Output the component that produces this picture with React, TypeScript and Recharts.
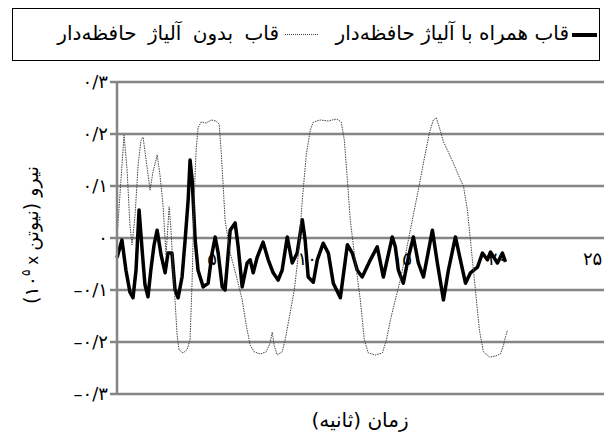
import React from 'react';
import { LineChart, Line, XAxis, YAxis, CartesianGrid, ReferenceDot } from 'recharts';

// Time (s) and force (x 10^5 N) — frame with shape-memory alloy (thick line)
const withAlloyTime = [0.00, 0.26, 0.47, 0.68, 0.84, 1.00, 1.16, 1.32, 1.47, 1.63, 1.79, 1.95, 2.11, 2.32, 2.53, 2.68, 2.89, 3.05, 3.21, 3.42, 3.58, 3.74, 3.84, 3.95, 4.11, 4.26, 4.53, 4.79, 5.00, 5.16, 5.32, 5.53, 5.68, 5.95, 6.21, 6.37, 6.58, 6.84, 7.00, 7.16, 7.37, 7.68, 7.95, 8.21, 8.47, 8.68, 8.95, 9.21, 9.47, 9.74, 9.89, 10.05, 10.32, 10.53, 10.84, 11.11, 11.37, 11.74, 12.11, 12.37, 12.63, 12.89, 13.32, 13.68, 14.00, 14.47, 14.63, 14.79, 15.05, 15.32, 15.58, 15.84, 16.11, 16.58, 16.84, 17.16, 17.42, 17.79, 18.05, 18.32, 18.58, 18.95, 19.21, 19.47, 19.63, 20.00, 20.26, 20.42];
const withAlloyForce = [-0.038, -0.004, -0.062, -0.104, -0.115, -0.062, 0.054, -0.023, -0.090, -0.113, -0.058, -0.013, 0.015, -0.033, -0.067, -0.029, -0.029, -0.100, -0.115, -0.075, -0.004, 0.073, 0.150, 0.112, -0.004, -0.062, -0.094, -0.087, -0.029, 0.002, -0.029, -0.094, -0.100, 0.015, 0.029, -0.017, -0.094, -0.048, -0.042, -0.067, -0.037, -0.008, -0.042, -0.067, -0.081, -0.062, 0.002, -0.048, -0.029, 0.035, -0.004, -0.075, -0.085, -0.042, -0.010, -0.029, -0.087, -0.115, -0.013, -0.029, -0.062, -0.075, -0.042, -0.017, -0.075, 0.002, -0.017, -0.062, -0.087, -0.037, 0.002, -0.048, -0.075, 0.015, -0.048, -0.119, -0.062, 0.002, -0.042, -0.087, -0.067, -0.056, -0.029, -0.042, -0.027, -0.048, -0.029, -0.046];

// Frame without shape-memory alloy (thin dotted line)
const withoutAlloyTime = [0.00, 0.21, 0.37, 0.53, 0.68, 0.79, 0.95, 1.11, 1.26, 1.37, 1.53, 1.74, 1.89, 2.05, 2.11, 2.26, 2.42, 2.53, 2.58, 2.68, 2.74, 2.84, 2.95, 3.05, 3.16, 3.26, 3.47, 3.68, 3.84, 3.95, 4.05, 4.16, 4.26, 4.42, 4.68, 4.95, 5.21, 5.37, 5.47, 5.58, 5.68, 5.95, 6.26, 6.58, 6.79, 7.00, 7.21, 7.53, 7.84, 8.05, 8.16, 8.26, 8.42, 8.68, 8.84, 9.05, 9.32, 9.53, 9.74, 9.95, 10.16, 10.32, 10.68, 11.11, 11.53, 11.79, 11.95, 12.11, 12.26, 12.53, 12.79, 13.00, 13.21, 13.58, 13.95, 14.16, 14.37, 14.63, 14.89, 15.16, 15.42, 15.63, 15.89, 16.16, 16.42, 16.63, 16.79, 16.95, 17.16, 17.42, 17.68, 17.95, 18.21, 18.42, 18.63, 18.84, 19.05, 19.26, 19.58, 19.89, 20.16, 20.32, 20.42, 20.53];
const withoutAlloyForce = [0.000, 0.112, 0.198, 0.131, 0.025, -0.013, 0.044, 0.140, 0.188, 0.194, 0.150, 0.092, 0.127, 0.150, 0.160, 0.121, 0.063, -0.004, -0.033, 0.025, 0.060, 0.015, -0.062, -0.119, -0.187, -0.215, -0.221, -0.215, -0.196, -0.081, 0.073, 0.169, 0.212, 0.223, 0.221, 0.227, 0.225, 0.219, 0.169, 0.102, 0.035, -0.029, -0.071, -0.119, -0.167, -0.206, -0.219, -0.223, -0.219, -0.202, -0.181, -0.206, -0.225, -0.219, -0.196, -0.154, -0.100, -0.033, 0.073, 0.160, 0.208, 0.223, 0.227, 0.225, 0.229, 0.223, 0.188, 0.112, 0.035, -0.046, -0.119, -0.196, -0.221, -0.225, -0.221, -0.196, -0.158, -0.119, -0.081, -0.033, 0.015, 0.054, 0.102, 0.154, 0.202, 0.227, 0.231, 0.212, 0.185, 0.165, 0.144, 0.121, 0.100, 0.054, -0.023, -0.100, -0.177, -0.219, -0.229, -0.227, -0.223, -0.206, -0.190, -0.177];

const yTicks = [-0.3, -0.2, -0.1, 0, 0.1, 0.2, 0.3];
const yTickLabels = ['–۰/۳', '–۰/۲', '–۰/۱', '۰', '۰/۱', '۰/۲', '۰/۳'];
const xTicks = [5, 10, 15, 20, 25];
const xTickLabels = ['۵', '۱۰', '۱۵', '۲۰', '۲۵'];
const seriesNames = ['قاب همراه با آلیاژ حافظه‌دار', 'قاب بدون آلیاژ حافظه‌دار'];
const xTitle = 'زمان (ثانیه)';
const yTitleParts = ['(', '۱۰', '۵', 'x', 'نیوتن', ')', 'نیرو'];

const withAlloyData = withAlloyTime.map((t, i) => ({ t, v: withAlloyForce[i] }));
const withoutAlloyData = withoutAlloyTime.map((t, i) => ({ t, v: withoutAlloyForce[i] }));

const FONT = '"DejaVu Sans", sans-serif';
const GRID = '#858585';

const yLabel = (v: number) => {
  const idx = yTicks.findIndex((t) => Math.abs(t - v) < 1e-6);
  return idx >= 0 ? yTickLabels[idx] : '';
};

export default function App() {
  return (
    <div style={{ position: 'absolute', left: 0, top: 0, width: 612, height: 434, background: '#fff', fontFamily: FONT }}>
      <LineChart
        width={612}
        height={434}
        margin={{ top: 82, right: 8, bottom: 40, left: 0 }}
      >
        <CartesianGrid horizontal={true} vertical={false} stroke={GRID} strokeWidth={2.5} />
        <XAxis
          type="number"
          dataKey="t"
          domain={[0, 25.6]}
          allowDuplicatedCategory={false}
          hide
        />
        <YAxis
          type="number"
          domain={[-0.3, 0.3]}
          ticks={yTicks}
          tickFormatter={yLabel}
          width={117}
          tickSize={7}
          tickMargin={2}
          axisLine={{ stroke: GRID, strokeWidth: 2.5 }}
          tickLine={{ stroke: GRID, strokeWidth: 2.5 }}
          tick={{ fill: '#000', fontSize: 18, fontFamily: FONT }}
          interval={0}
        />
        <Line
          data={withAlloyData}
          dataKey="v"
          type="linear"
          stroke="#000"
          strokeWidth={3.5}
          dot={false}
          isAnimationActive={false}
          strokeLinejoin="round"
        />
        <Line
          data={withoutAlloyData}
          dataKey="v"
          type="linear"
          stroke="#444"
          strokeWidth={1}
          strokeDasharray="1.5 1"
          dot={false}
          isAnimationActive={false}
        />
        {xTicks.map((t, i) => (
          <ReferenceDot
            key={t}
            x={t}
            y={0}
            r={0}
            ifOverflow="visible"
            shape={(p: any) => (
              <text x={p.cx} y={p.cy + 27} textAnchor="middle" fontSize={18} fontFamily={FONT} fill="#000">
                {xTickLabels[i]}
              </text>
            )}
          />
        ))}
      </LineChart>

      {/* Legend box */}
      <div
        style={{
          position: 'absolute', left: 12, top: 8, width: 588, height: 53,
          border: '1.3px solid #000', boxSizing: 'border-box',
          fontSize: 20, color: '#000', fontFamily: FONT,
        }}
      >
        <div style={{ position: 'absolute', right: 2, top: 24, width: 25, height: 3.5, background: '#000' }} />
        <div style={{ position: 'absolute', right: 30, top: 0, height: 51, lineHeight: '49px', direction: 'rtl', whiteSpace: 'nowrap' }}>{seriesNames[0]}</div>
        <div style={{ position: 'absolute', left: 272, top: 25, width: 33, height: 0, borderTop: '1px dotted #444' }} />
        <div style={{ position: 'absolute', right: 320, top: 0, height: 51, lineHeight: '49px', direction: 'rtl', whiteSpace: 'nowrap', wordSpacing: 5 }}>{seriesNames[1]}</div>
      </div>

      {/* Y axis title (rotated) */}
      <div style={{ position: 'absolute', left: 31, top: 235, width: 0, height: 0 }}>
        <div
          style={{
            position: 'absolute', left: 0, top: 0,
            transform: 'translate(-50%, -50%) rotate(-90deg)',
            display: 'flex', flexDirection: 'row', alignItems: 'baseline', whiteSpace: 'nowrap',
            fontSize: 19, color: '#000', fontFamily: FONT,
          }}
        >
          <span>{yTitleParts[0]}</span>
          <span>{yTitleParts[1]}</span>
          <span style={{ fontSize: 12, position: 'relative', top: -8 }}>{yTitleParts[2]}</span>
          <span style={{ margin: '0 5px', fontSize: 15 }}>{yTitleParts[3]}</span>
          <span>{yTitleParts[4]}</span>
          <span>{yTitleParts[5]}</span>
          <span style={{ marginLeft: 6 }}>{yTitleParts[6]}</span>
        </div>
      </div>

      {/* X axis title */}
      <div style={{ position: 'absolute', left: 360, top: 420, width: 0, height: 0 }}>
        <div
          style={{
            position: 'absolute', left: 0, top: 0, transform: 'translate(-50%, -50%)',
            whiteSpace: 'nowrap', direction: 'rtl',
            fontSize: 20, color: '#000', fontFamily: FONT,
          }}
        >
          {xTitle}
        </div>
      </div>
    </div>
  );
}
